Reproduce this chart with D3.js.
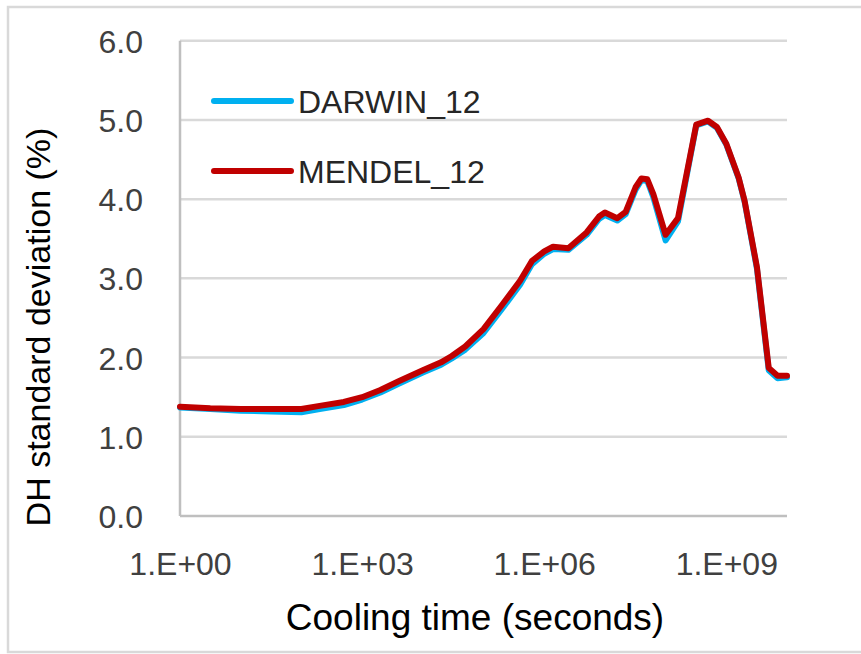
<!DOCTYPE html>
<html>
<head>
<meta charset="utf-8">
<script src="https://cdn.jsdelivr.net/npm/d3@7"></script>
<style>
  html, body { margin: 0; padding: 0; background: #fff; }
  svg { display: block; }
  text { font-family: "Liberation Sans", Arial, sans-serif; }
</style>
</head>
<body>
<svg id="chart" width="861" height="654"></svg>
<script>
// Cooling time (s) at which the standard deviation was evaluated
const coolingTimes = [
  1, 3.16, 10, 31.6, 100, 200, 500, 1000, 2000, 4000,
  1e4, 2e4, 3e4, 5e4, 1e5, 2e5, 4e5, 6.3e5, 1e6, 1.4e6,
  2.5e6, 5e6, 8e6, 1e7, 1.6e7, 2.2e7, 3.2e7, 4e7, 5e7, 6.3e7,
  1e8, 1.6e8, 3.2e8, 5e8, 7e8, 1e9, 1.6e9, 2e9, 3.2e9, 5e9,
  7e9, 1e10
];

// DH standard deviation (%) per library
const darwin12 = [
  1.37, 1.35, 1.33, 1.32, 1.31, 1.35, 1.40, 1.47, 1.56, 1.67,
  1.81, 1.91, 1.99, 2.10, 2.31, 2.61, 2.92, 3.18, 3.31, 3.37,
  3.36, 3.55, 3.75, 3.80, 3.73, 3.81, 4.12, 4.24, 4.23, 4.02,
  3.48, 3.72, 4.93, 4.98, 4.90, 4.69, 4.26, 3.97, 3.12, 1.84,
  1.74, 1.75
];
const mendel12 = [
  1.38, 1.36, 1.35, 1.35, 1.35, 1.39, 1.44, 1.50, 1.59, 1.70,
  1.84, 1.94, 2.02, 2.14, 2.36, 2.66, 2.97, 3.22, 3.34, 3.40,
  3.38, 3.58, 3.78, 3.83, 3.76, 3.84, 4.15, 4.26, 4.25, 4.06,
  3.55, 3.76, 4.94, 4.99, 4.91, 4.70, 4.27, 3.98, 3.14, 1.87,
  1.77, 1.77
];

const seriesNames = ["DARWIN_12", "MENDEL_12"];
const seriesColors = ["#00B0F0", "#C00000"];

const xTickValues = [1, 1e3, 1e6, 1e9];
const xTickLabels = ["1.E+00", "1.E+03", "1.E+06", "1.E+09"];
const yTickValues = [0, 1, 2, 3, 4, 5, 6];

const xTitle = "Cooling time (seconds)";
const yTitle = "DH standard deviation (%)";

const svg = d3.select("#chart");

// outer chart frame
svg.append("rect")
  .attr("x", 8).attr("y", 7)
  .attr("width", 870).attr("height", 645)
  .attr("fill", "none")
  .attr("stroke", "#D9D9D9")
  .attr("stroke-width", 2.5);

const plot = { left: 180, right: 787, top: 40.7, bottom: 516 };

const x = d3.scaleLog()
  .domain([1, 1e10])
  .range([plot.left, plot.right]);

const y = d3.scaleLinear()
  .domain([0, 6])
  .range([plot.bottom, plot.top]);

// horizontal gridlines
svg.append("g")
  .selectAll("line")
  .data(yTickValues.filter(v => v > 0))
  .join("line")
  .attr("x1", plot.left).attr("x2", plot.right)
  .attr("y1", d => y(d)).attr("y2", d => y(d))
  .attr("stroke", "#D9D9D9")
  .attr("stroke-width", 2.5);

// y axis labels
const yAxis = d3.axisLeft(y)
  .tickValues(yTickValues)
  .tickFormat(d3.format(".1f"))
  .tickSize(0)
  .tickPadding(37);
const yG = svg.append("g")
  .attr("transform", `translate(${plot.left},0)`)
  .call(yAxis);
yG.select(".domain").remove();
yG.selectAll("text")
  .attr("font-size", 32)
  .attr("fill", "#404040")
  .attr("dy", "0.36em");

// x axis labels
const xAxis = d3.axisBottom(x)
  .tickValues(xTickValues)
  .tickFormat((d, i) => xTickLabels[i])
  .tickSize(0)
  .tickPadding(0);
const xG = svg.append("g")
  .attr("transform", `translate(0,${plot.bottom})`)
  .call(xAxis);
xG.select(".domain").remove();
xG.selectAll("text")
  .attr("font-size", 32)
  .attr("fill", "#404040")
  .attr("dy", null)
  .attr("y", 59);

// axis lines
svg.append("line")
  .attr("x1", plot.left).attr("x2", plot.left)
  .attr("y1", plot.top).attr("y2", plot.bottom)
  .attr("stroke", "#BFBFBF").attr("stroke-width", 2.5);
svg.append("line")
  .attr("x1", plot.left).attr("x2", plot.right)
  .attr("y1", plot.bottom).attr("y2", plot.bottom)
  .attr("stroke", "#BFBFBF").attr("stroke-width", 2.5);

// data lines
const line = d3.line()
  .x(d => x(d[0]))
  .y(d => y(d[1]))
  .curve(d3.curveLinear);

const seriesData = [darwin12, mendel12].map(vals => coolingTimes.map((t, i) => [t, vals[i]]));

svg.append("g")
  .selectAll("path")
  .data(seriesData)
  .join("path")
  .attr("d", line)
  .attr("fill", "none")
  .attr("stroke", (d, i) => seriesColors[i])
  .attr("stroke-width", 6)
  .attr("stroke-linejoin", "round")
  .attr("stroke-linecap", "round");

// legend
const legend = svg.append("g");
seriesNames.forEach((name, i) => {
  const ly = 101 + i * 70;
  legend.append("line")
    .attr("x1", 214).attr("x2", 291)
    .attr("y1", ly).attr("y2", ly)
    .attr("stroke", seriesColors[i])
    .attr("stroke-width", 6)
    .attr("stroke-linecap", "round");
  legend.append("text")
    .attr("x", 298).attr("y", ly)
    .attr("dy", "0.36em")
    .attr("font-size", 32)
    .attr("fill", "#262626")
    .text(name);
});

// axis titles
svg.append("text")
  .attr("x", 475).attr("y", 630)
  .attr("text-anchor", "middle")
  .attr("font-size", 37)
  .attr("fill", "#000")
  .text(xTitle);

svg.append("text")
  .attr("transform", "translate(50,327) rotate(-90)")
  .attr("text-anchor", "middle")
  .attr("font-size", 34)
  .attr("fill", "#000")
  .text(yTitle);
</script>
</body>
</html>
